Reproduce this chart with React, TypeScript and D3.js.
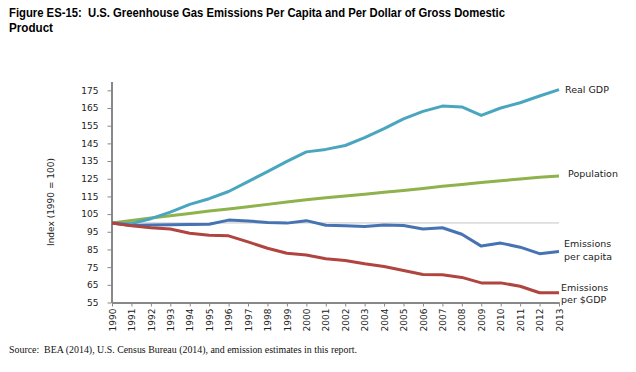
import React, {useEffect, useRef} from 'react';
import * as d3 from 'd3';

// index values, 1990 = 100
const years: number[] = d3.range(1990, 2014);
const realGDP: number[] = [100, 99.6, 102.4, 106.1, 110.5, 113.7, 117.8, 123.4, 129.0, 134.8, 140.2, 141.6, 143.8, 148.2, 153.3, 158.9, 163.1, 166.1, 165.6, 160.8, 165.0, 168.0, 171.8, 175.4];
const population: number[] = [100, 101.4, 102.8, 104.1, 105.4, 106.7, 107.9, 109.2, 110.5, 111.8, 113.1, 114.2, 115.2, 116.2, 117.3, 118.4, 119.5, 120.7, 121.8, 122.9, 123.9, 124.8, 125.8, 126.6];
const perCapita: number[] = [100, 98.6, 98.9, 99.0, 99.1, 99.3, 101.6, 101.1, 100.3, 99.9, 101.3, 98.7, 98.4, 98.0, 98.8, 98.5, 96.6, 97.3, 93.6, 86.9, 88.6, 86.3, 82.6, 83.8];
const perGDP: number[] = [100, 98.4, 97.3, 96.6, 94.2, 93.1, 92.7, 89.3, 85.7, 82.9, 81.9, 79.7, 78.8, 76.9, 75.4, 73.1, 70.8, 70.7, 69.2, 66.1, 66.1, 64.2, 60.5, 60.5];
const yTicks: number[] = d3.range(55, 176, 10);

const seriesNames: string[] = ['Population', 'Real GDP', 'Emissions per capita', 'Emissions per $GDP'];
const seriesColors: string[] = ['#8fb24c', '#4aa6bf', '#4673b3', '#b0443f'];

const App = () => {
  const ref = useRef<SVGSVGElement>(null);

  useEffect(() => {
    drawChart();
    return () => {
      d3.select(ref.current).selectAll('*').remove();
    };
  }, []);

  const drawChart = () => {
    const svg = d3.select(ref.current);
    const axisColor = '#888888';
    const labelFont = '"DejaVu Sans", Verdana, sans-serif';

    const x = d3.scaleLinear().domain([1990, 2013]).range([112, 559]);
    const y = d3.scaleLinear().domain([55, 180]).range([302.5, 81.5]);

    // title
    svg.append('text')
      .attr('x', 9).attr('y', 17)
      .attr('font-family', '"Liberation Sans", Arial, sans-serif')
      .attr('font-weight', 'bold').attr('font-size', 13.5)
      .attr('textLength', 496).attr('lengthAdjust', 'spacingAndGlyphs')
      .style('white-space', 'pre')
      .text('Figure ES-15:  U.S. Greenhouse Gas Emissions Per Capita and Per Dollar of Gross Domestic');
    svg.append('text')
      .attr('x', 9).attr('y', 32)
      .attr('font-family', '"Liberation Sans", Arial, sans-serif')
      .attr('font-weight', 'bold').attr('font-size', 13.5)
      .attr('textLength', 44).attr('lengthAdjust', 'spacingAndGlyphs')
      .text('Product');

    // reference line at 100
    svg.append('line')
      .attr('x1', x(1990)).attr('x2', x(2013))
      .attr('y1', y(100)).attr('y2', y(100))
      .attr('stroke', '#c4c4c4').attr('stroke-width', 1);

    // y axis
    const yAxis = svg.append('g')
      .attr('transform', `translate(${x(1990) - 0.5},0)`)
      .call(d3.axisLeft(y).tickValues(yTicks).tickSize(4).tickSizeOuter(0).tickPadding(9));
    yAxis.select('.domain').attr('stroke', axisColor).attr('stroke-width', 2);
    yAxis.selectAll('.tick line').attr('stroke', axisColor).attr('stroke-width', 1);
    yAxis.selectAll('.tick text')
      .attr('font-family', labelFont).attr('font-size', 9).attr('fill', '#222');

    // x axis
    const xAxis = svg.append('g')
      .attr('transform', `translate(0,${y(55)})`)
      .call(d3.axisBottom(x).tickValues(years).tickFormat(d3.format('d')).tickSize(4).tickSizeOuter(0));
    xAxis.select('.domain').attr('stroke', axisColor).attr('stroke-width', 2);
    xAxis.selectAll('.tick line').attr('stroke', axisColor).attr('stroke-width', 1);
    xAxis.selectAll('.tick text')
      .attr('font-family', labelFont).attr('font-size', 9).attr('fill', '#222')
      .attr('transform', 'rotate(-90)')
      .attr('text-anchor', 'end')
      .attr('x', -6).attr('y', 0).attr('dy', '0.35em');
    svg.selectAll('.domain').attr('fill', 'none');

    // y axis title
    svg.append('text')
      .attr('transform', `translate(54,202) rotate(-90)`)
      .attr('text-anchor', 'middle')
      .attr('font-family', labelFont).attr('font-size', 9).attr('fill', '#222')
      .text('Index (1990 = 100)');

    // series lines
    const allSeries: number[][] = [population, realGDP, perCapita, perGDP];
    const line = d3.line<number>()
      .x((d, i) => x(years[i]))
      .y(d => y(d));

    svg.selectAll('.series')
      .data(allSeries)
      .enter().append('path')
      .attr('class', 'series')
      .attr('d', d => line(d))
      .attr('fill', 'none')
      .attr('stroke', (d, i) => seriesColors[i])
      .attr('stroke-width', 3)
      .attr('stroke-linejoin', 'round');

    // end labels
    const endLabels: {name: string, lines: string[], dx: number, dy: number[]}[] = [
      {name: seriesNames[0], lines: ['Population'], dx: 9, dy: [1.5]},
      {name: seriesNames[1], lines: ['Real GDP'], dx: 6, dy: [3]},
      {name: seriesNames[2], lines: ['Emissions', 'per capita'], dx: 5, dy: [-5, 8]},
      {name: seriesNames[3], lines: ['Emissions', 'per $GDP'], dx: 2, dy: [-1.5, 10.5]},
    ];
    endLabels.forEach((lab, i) => {
      const last = allSeries[i][allSeries[i].length - 1];
      lab.lines.forEach((t, j) => {
        svg.append('text')
          .attr('x', x(2013) + lab.dx)
          .attr('y', y(last) + lab.dy[j])
          .attr('font-family', labelFont).attr('font-size', 9.5).attr('fill', '#222')
          .text(t);
      });
    });

    // source note
    svg.append('text')
      .attr('x', 9).attr('y', 353)
      .attr('font-family', '"Liberation Serif", "Times New Roman", serif')
      .attr('font-size', 10.5).attr('fill', '#111')
      .attr('textLength', 348).attr('lengthAdjust', 'spacingAndGlyphs')
      .text('Source:  BEA (2014), U.S. Census Bureau (2014), and emission estimates in this report.')
      .style('white-space', 'pre');
  };

  return (
    <svg ref={ref} width={636} height={372}
      style={{position: 'absolute', left: 0, top: 0, background: '#fff'}} />
  );
};

export default App;
